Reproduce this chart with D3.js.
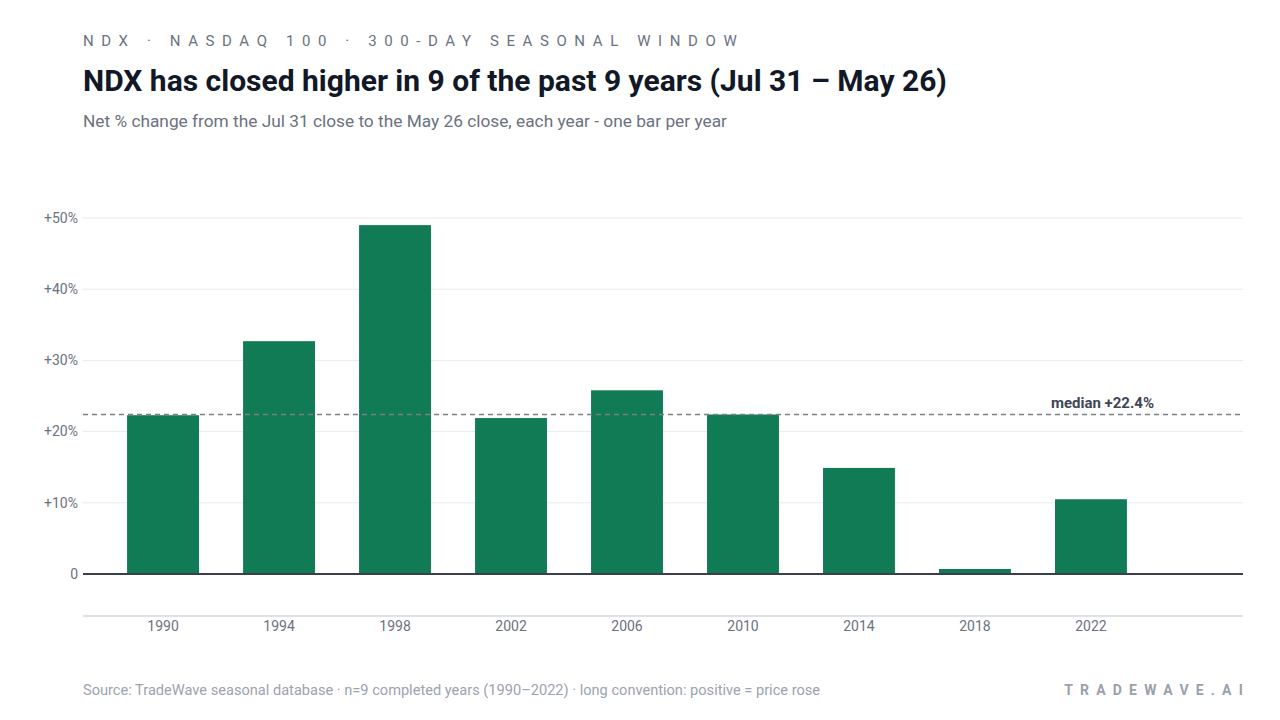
<!DOCTYPE html>
<html>
<head>
<meta charset="utf-8">
<script src="https://cdn.jsdelivr.net/npm/d3@7"></script>
<style>
  body { margin: 0; background: #fff; }
  svg { display: block; font-family: Roboto, 'Noto Sans', sans-serif; }
</style>
</head>
<body>
<div id='chart'></div>
<script>

// Data
const years = [1990, 1994, 1998, 2002, 2006, 2010, 2014, 2018, 2022];
const changes = [22.3, 32.7, 49.0, 21.9, 25.8, 22.4, 14.9, 0.7, 10.5];
const medianValue = 22.4;
const yTicks = [0, 10, 20, 30, 40, 50];

// Page Dimensions
const W = 1280, H = 720;
let margin = {left: 83, right: 37};
const plotRight = W - margin.right;

const svg = d3.select('div#chart').append('svg')
  .attr('width', W)
  .attr('height', H);

// Colors
const barColor = '#107b55';
const textMuted = '#6b7280';

// Header
svg.append('text')
  .attr('x', 83).attr('y', 46)
  .attr('font-size', 15)
  .attr('letter-spacing', '7.6px')
  .attr('fill', '#6b7280')
  .text('NDX · NASDAQ 100 · 300-DAY SEASONAL WINDOW');

svg.append('text')
  .attr('x', 83).attr('y', 91)
  .attr('font-size', 30)
  .attr('font-weight', 700)
  .attr('fill', '#111827')
  .text('NDX has closed higher in 9 of the past 9 years (Jul 31 – May 26)');

svg.append('text')
  .attr('x', 83).attr('y', 127)
  .attr('font-size', 17.3)
  .attr('fill', textMuted)
  .text('Net % change from the Jul 31 close to the May 26 close, each year - one bar per year');

// Scales
const x = d3.scaleBand()
  .domain(years)
  .range([83, 1171])
  .paddingInner(0.38)
  .paddingOuter(0.38);

const y = d3.scaleLinear()
  .domain([-5.9, 50])
  .range([616, 218]);

// Grid lines
svg.append('g')
  .selectAll('line')
  .data(yTicks.filter(t => t !== 0))
  .enter()
  .append('line')
  .attr('x1', 83).attr('x2', plotRight)
  .attr('y1', d => y(d)).attr('y2', d => y(d))
  .style('stroke', '#e8eaee')
  .style('stroke-width', 1);

// Y tick labels
svg.append('g')
  .selectAll('text')
  .data(yTicks)
  .enter()
  .append('text')
  .attr('x', 78)
  .attr('y', d => y(d))
  .attr('dy', '0.35em')
  .attr('text-anchor', 'end')
  .attr('font-size', 14)
  .attr('fill', textMuted)
  .text(d => d === 0 ? '0' : `+${d}%`);

// Bars
svg.append('g')
  .selectAll('rect')
  .data(years)
  .enter()
  .append('rect')
  .attr('x', d => x(d))
  .attr('width', x.bandwidth())
  .attr('y', (d, i) => y(changes[i]))
  .attr('height', (d, i) => y(0) - y(changes[i]))
  .style('fill', barColor);

// Median line
svg.append('line')
  .attr('x1', 83).attr('x2', plotRight)
  .attr('y1', y(medianValue)).attr('y2', y(medianValue))
  .style('stroke', '#7b7f87')
  .style('stroke-width', 1.3)
  .style('stroke-dasharray', '5,4');

svg.append('text')
  .attr('x', 1154)
  .attr('y', y(medianValue) - 7)
  .attr('text-anchor', 'end')
  .attr('font-size', 15)
  .attr('font-weight', 700)
  .attr('fill', '#3f4656')
  .text(`median +${medianValue.toFixed(1)}%`);

// Zero line
svg.append('line')
  .attr('x1', 83).attr('x2', plotRight)
  .attr('y1', y(0)).attr('y2', y(0))
  .style('stroke', '#3a3f4b')
  .style('stroke-width', 2);

// X axis
const xAxis = svg.append('g')
  .attr('transform', `translate(0,${y.range()[0]})`)
  .call(d3.axisBottom(x).tickSize(0).tickPadding(5));
xAxis.select('.domain').remove();
xAxis.append('line')
  .attr('x1', 83).attr('x2', plotRight)
  .style('stroke', '#d5d8dd')
  .style('stroke-width', 1.5);
xAxis.selectAll('text')
  .attr('font-family', 'Roboto, sans-serif')
  .attr('font-size', 14)
  .attr('fill', textMuted);

// Footer
svg.append('text')
  .attr('x', 83).attr('y', 695)
  .attr('font-size', 14.6)
  .attr('fill', '#9ca3af')
  .text('Source: TradeWave seasonal database · n=9 completed years (1990–2022) · long convention: positive = price rose');

svg.append('text')
  .attr('x', 1250).attr('y', 695)
  .attr('text-anchor', 'end')
  .attr('font-size', 14)
  .attr('font-weight', 700)
  .attr('letter-spacing', '7.2px')
  .attr('fill', '#9aa1ad')
  .text('TRADEWAVE.AI');

</script>
</body>
</html>
